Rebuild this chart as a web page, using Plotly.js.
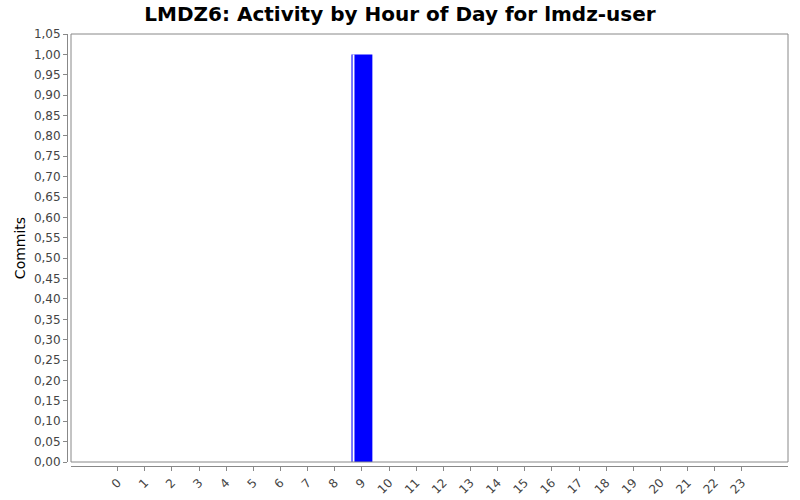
<!DOCTYPE html>
<html>
<head>
<meta charset="utf-8">
<script src="https://cdn.plot.ly/plotly-3.0.1.min.js"></script>
<style>
  html, body { margin: 0; padding: 0; background: #fff; }
  #chart { width: 800px; height: 500px; }
</style>
</head>
<body>
<div id="chart"></div>
<script>
// hours of the day and commit counts per hour
var hours = [0, 1, 2, 3, 4, 5, 6, 7, 8, 9, 10, 11, 12, 13, 14, 15, 16, 17, 18, 19, 20, 21, 22, 23];
var hourLabels = ['0', '1', '2', '3', '4', '5', '6', '7', '8', '9', '10', '11', '12', '13', '14', '15', '16', '17', '18', '19', '20', '21', '22', '23'];
var commits = [0, 0, 0, 0, 0, 0, 0, 0, 0, 1, 0, 0, 0, 0, 0, 0, 0, 0, 0, 0, 0, 0, 0, 0];

var gray = '#888888';
var tickFont = {family: 'DejaVu Sans, sans-serif', size: 12, color: '#444444'};

var bars = {
  type: 'bar',
  x: hours,
  y: commits,
  width: 0.77,
  marker: {color: '#0000ff', line: {width: 0}},
  hoverinfo: 'x+y'
};

// thin light stripe near the left edge of each bar
var stripe = {
  type: 'bar',
  x: hours,
  y: commits,
  width: 0.07,
  offset: -0.345,
  marker: {color: '#ffffff', line: {width: 0}},
  hoverinfo: 'skip'
};

var xd0 = 4 / 721;
var yd0 = 4 / 432;

var layout = {
  width: 800,
  height: 500,
  margin: {l: 67, r: 12, t: 34, b: 34, pad: 0},
  paper_bgcolor: '#ffffff',
  plot_bgcolor: '#ffffff',
  separators: ',.',
  showlegend: false,
  barmode: 'overlay',
  title: {
    text: 'LMDZ6: Activity by Hour of Day for lmdz-user',
    font: {family: 'DejaVu Sans, sans-serif', size: 20, color: '#000000', weight: 'bold'},
    x: 0.5, xanchor: 'center', y: 0.972, yanchor: 'middle'
  },
  xaxis: {
    domain: [xd0, 1],
    anchor: 'free',
    position: 0,
    range: [-1.72, 24.7],
    tickmode: 'array',
    tickvals: hours,
    ticktext: hourLabels,
    tickangle: -45,
    ticks: 'outside',
    ticklen: 4,
    tickcolor: gray,
    showline: true,
    linecolor: gray,
    linewidth: 1,
    showgrid: false,
    zeroline: false,
    tickfont: tickFont,
    fixedrange: true
  },
  yaxis: {
    domain: [yd0, 1],
    anchor: 'free',
    position: 0,
    range: [0, 1.05],
    tick0: 0,
    dtick: 0.05,
    tickformat: '.2f',
    ticks: 'outside',
    ticklen: 4,
    tickcolor: gray,
    showline: true,
    linecolor: gray,
    linewidth: 1,
    showgrid: false,
    zeroline: false,
    tickfont: tickFont,
    title: {
      text: 'Commits',
      font: {family: 'DejaVu Sans, sans-serif', size: 14, color: '#000000'},
      standoff: 3
    },
    fixedrange: true
  },
  shapes: [{
    type: 'rect',
    xref: 'paper', yref: 'paper',
    x0: xd0, x1: 1, y0: yd0, y1: 1,
    line: {color: gray, width: 1},
    fillcolor: 'rgba(0,0,0,0)'
  }]
};

Plotly.newPlot('chart', [bars, stripe], layout, {displayModeBar: false, staticPlot: true});
</script>
</body>
</html>
